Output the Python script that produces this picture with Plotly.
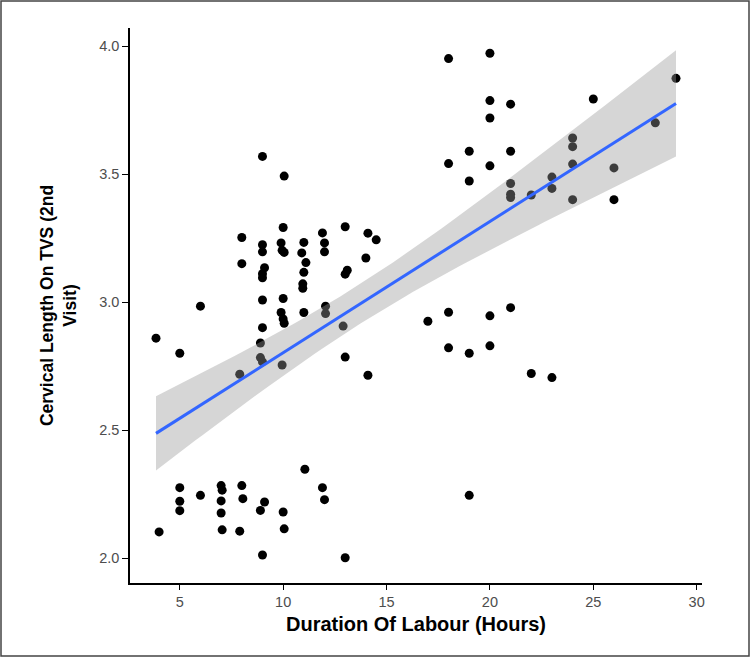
import numpy as np
import plotly.graph_objects as go

# Duration of labour (hours)
duration = [
    18, 20, 20, 21, 25, 29, 20, 28, 24, 24, 19, 21, 18, 20, 24, 26, 19, 21, 23, 23, 21, 21, 22, 24, 26,
    17, 18, 20, 21, 18, 19, 20, 22, 23, 19,
    13, 14.1, 14.5, 14, 13.1, 13, 12.9, 13, 14.1,
    3.85, 5, 6, 8, 8, 9, 9, 9.1, 9, 9, 9, 9, 8.9, 8.9, 9, 7.9,
    10, 9.9, 9.95, 10.05, 10, 9.9, 10, 10.05, 9.95,
    11, 10.9, 11.1, 11, 10.95, 10.95, 11, 11.9, 12, 12, 12.05, 12.05,
    9, 10.05,
    4, 5, 5, 5, 6, 7, 7.05, 7, 7, 7.05, 8, 8.05, 7.9, 9.1, 8.9, 9, 10, 10.05, 11.05, 11.9, 12,
    13,
]
# Cervical length on TVS (2nd visit)
cervical = [
    3.952, 3.973, 3.788, 3.774, 3.794, 3.875, 3.720, 3.701, 3.642, 3.608, 3.590, 3.590, 3.542, 3.533, 3.540,
    3.525, 3.474, 3.464, 3.489, 3.445, 3.422, 3.409, 3.419, 3.401, 3.401,
    2.926, 2.961, 2.947, 2.979, 2.822, 2.801, 2.830, 2.722, 2.706, 2.246,
    3.295, 3.270, 3.244, 3.173, 3.125, 3.110, 2.907, 2.786, 2.715,
    2.860, 2.801, 2.985, 3.253, 3.151, 3.225, 3.197, 3.135, 3.112, 3.096, 3.009, 2.901, 2.841, 2.784, 2.767, 2.719,
    3.292, 3.232, 3.203, 3.195, 3.015, 2.960, 2.935, 2.918, 2.755,
    3.234, 3.193, 3.155, 3.117, 3.072, 3.055, 2.960, 3.271, 3.232, 3.197, 2.985, 2.956,
    3.570, 3.493,
    2.103, 2.276, 2.223, 2.186, 2.246, 2.284, 2.266, 2.224, 2.177, 2.111, 2.284, 2.233, 2.106, 2.220, 2.187,
    2.013, 2.181, 2.115, 2.348, 2.276, 2.229,
    2.002,
]

x = np.array(duration, dtype=float)
y = np.array(cervical, dtype=float)
n = len(x)
slope, intercept = np.polyfit(x, y, 1)
resid = y - (slope * x + intercept)
s = np.sqrt(np.sum(resid ** 2) / (n - 2))
xg = np.linspace(x.min(), x.max(), 80)
yg = slope * xg + intercept
se = s * np.sqrt(1.0 / n + (xg - x.mean()) ** 2 / np.sum((x - x.mean()) ** 2))
tq = 1.983
upper = yg + tq * se
lower = yg - tq * se

fig = go.Figure()
fig.add_trace(go.Scatter(x=x, y=y, mode="markers",
                         marker=dict(color="black", size=9, line=dict(width=0)),
                         showlegend=False, hoverinfo="skip"))
fig.add_trace(go.Scatter(x=np.concatenate([xg, xg[::-1]]), y=np.concatenate([upper, lower[::-1]]),
                         mode="lines", fill="toself", fillcolor="rgba(153,153,153,0.4)",
                         line=dict(width=0), showlegend=False, hoverinfo="skip"))
fig.add_trace(go.Scatter(x=xg, y=yg, mode="lines", line=dict(color="#3366FF", width=3),
                         showlegend=False, hoverinfo="skip"))

W, H = 750, 658
L, R, T, B = 130, 48, 28, 75
pw, ph = W - L - R, H - T - B

tickfont = dict(family="Liberation Sans, Arial, sans-serif", size=14.5, color="#4d4d4d")
xtitlefont = dict(family="Liberation Sans, Arial, sans-serif", size=20, color="black")
ytitlefont = dict(family="Liberation Sans, Arial, sans-serif", size=17.5, color="black")

xr = [x.min() - 0.05 * (x.max() - x.min()), x.max() + 0.05 * (x.max() - x.min())]
yr = [y.min() - 0.05 * (y.max() - y.min()), y.max() + 0.05 * (y.max() - y.min())]

fig.update_layout(
    width=W, height=H,
    margin=dict(l=L, r=R, t=T, b=B),
    paper_bgcolor="white", plot_bgcolor="white",
    xaxis=dict(range=xr, tickvals=[5, 10, 15, 20, 25, 30], showgrid=False, zeroline=False,
               showline=True, linecolor="black", linewidth=1.5, ticks="outside", ticklen=5,
               tickcolor="black", tickwidth=1.2, tickfont=tickfont,
               title=dict(text="<b>Duration Of Labour (Hours)</b>", font=xtitlefont, standoff=8)),
    yaxis=dict(range=yr, tickvals=[2.0, 2.5, 3.0, 3.5, 4.0], tickformat=".1f", showgrid=False,
               zeroline=False, showline=True, linecolor="black", linewidth=1.5, ticks="outside",
               ticklen=6, tickcolor="black", tickwidth=1.2, tickfont=tickfont,
               title=dict(text="<b>Cervical Length On TVS (2nd<br>Visit)</b>", font=ytitlefont, standoff=18)),
    shapes=[dict(type="rect", xref="paper", yref="paper",
                 x0=(-L + 1) / pw, x1=1 + (R - 1) / pw, y0=(-B + 2) / ph, y1=1 + (T - 1) / ph,
                 line=dict(color="#444444", width=1.5), fillcolor="rgba(0,0,0,0)")],
)

fig.write_html("out.html")
